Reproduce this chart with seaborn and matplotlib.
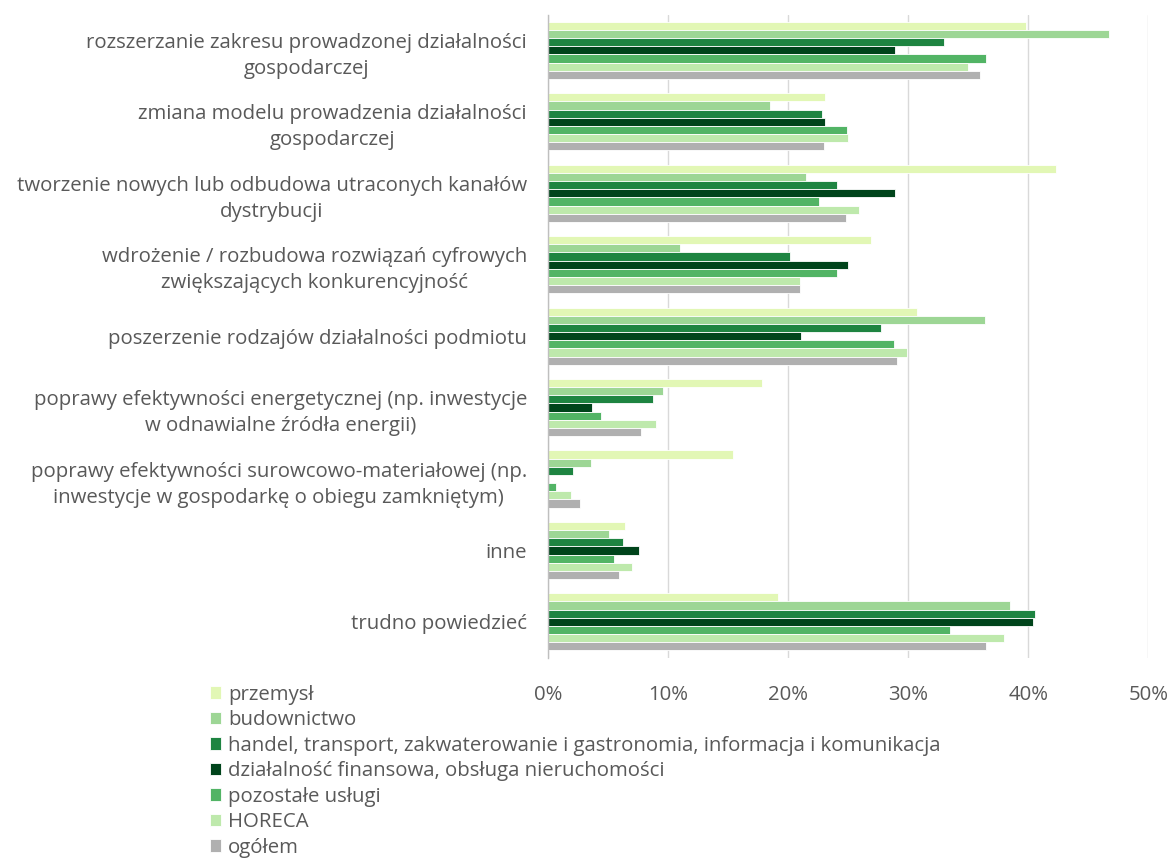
import numpy as np
import pandas as pd
import matplotlib
matplotlib.use("Agg")
import matplotlib.pyplot as plt
import seaborn as sns

# -----------------------------------
# DATA
# -----------------------------------

categories = [
    "rozszerzanie zakresu prowadzonej działalności\ngospodarczej",
    "zmiana modelu prowadzenia działalności\ngospodarczej",
    "tworzenie nowych lub odbudowa utraconych kanałów\ndystrybucji",
    "wdrożenie / rozbudowa rozwiązań cyfrowych\nzwiększających konkurencyjność",
    "poszerzenie rodzajów działalności podmiotu",
    "poprawy efektywności energetycznej (np. inwestycje\nw odnawialne źródła energii)",
    "poprawy efektywności surowcowo-materiałowej (np.\ninwestycje w gospodarkę o obiegu zamkniętym)",
    "inne",
    "trudno powiedzieć",
]

sectors = [
    "przemysł",
    "budownictwo",
    "handel, transport, zakwaterowanie i gastronomia, informacja i komunikacja",
    "działalność finansowa, obsługa nieruchomości",
    "pozostałe usługi",
    "HORECA",
    "ogółem",
]

przemysl = [39.8, 23.1, 42.3, 26.9, 30.7, 17.8, 15.4, 6.4, 19.2]
budownictwo = [46.7, 18.5, 21.5, 11.0, 36.4, 9.6, 3.6, 5.1, 38.5]
handel = [33.0, 22.8, 24.1, 20.2, 27.7, 8.8, 2.1, 6.3, 40.6]
finanse = [28.9, 23.1, 28.9, 25.0, 21.1, 3.7, 0.0, 7.6, 40.4]
pozostale = [36.5, 24.9, 22.6, 24.1, 28.8, 4.4, 0.7, 5.5, 33.5]
horeca = [35.0, 25.0, 25.9, 21.0, 29.9, 9.0, 1.9, 7.0, 38.0]
ogolem = [36.0, 23.0, 24.8, 21.0, 29.1, 7.8, 2.7, 5.9, 36.5]

colors = ["#E2F7B5", "#9DD695", "#1E8441", "#00441B", "#52B465", "#BEE9AC", "#B0B0B0"]

series = [przemysl, budownictwo, handel, finanse, pozostale, horeca, ogolem]

rows = []
for sector, vals in zip(sectors, series):
    for cat, v in zip(categories, vals):
        rows.append({"kategoria": cat, "sektor": sector, "udzial": v})
df = pd.DataFrame(rows)

# -----------------------------------
# PLOT
# -----------------------------------

sns.set_style("white")
plt.rcParams["font.family"] = ["Open Sans", "DejaVu Sans"]

FS = 14.7

fig = plt.figure(figsize=(11.73, 8.63), dpi=100)
ax = fig.add_axes([0.467, 0.238, 0.512, 0.745])

sns.barplot(
    data=df,
    y="kategoria",
    x="udzial",
    hue="sektor",
    hue_order=sectors,
    order=categories,
    palette=colors,
    saturation=1,
    orient="h",
    width=0.8,
    edgecolor="white",
    linewidth=0.6,
    ax=ax,
)

ax.set_xlim(0, 50)
ax.set_xticks(np.arange(0, 51, 10))
ax.set_xticklabels([f"{t}%" for t in range(0, 51, 10)])
ax.set_xlabel("")
ax.set_ylabel("")
ax.xaxis.grid(True, color="#D9D9D9", linewidth=1)
ax.set_axisbelow(True)

for s in ["top", "right", "bottom"]:
    ax.spines[s].set_visible(False)
ax.spines["left"].set_color("#BFBFBF")
ax.spines["left"].set_linewidth(1)

ax.tick_params(axis="x", length=0, pad=20, labelsize=FS, colors="#595959")
ax.tick_params(axis="y", length=0, pad=15, labelsize=FS, colors="#595959")
for lbl in ax.get_yticklabels():
    lbl.set_multialignment("center")
    lbl.set_linespacing(1.4)

ax.get_legend().remove()
handles, labels = ax.get_legend_handles_labels()
fig.legend(
    handles,
    labels,
    loc="upper left",
    bbox_to_anchor=(0.172, 0.216),
    frameon=False,
    fontsize=FS,
    labelcolor="#595959",
    handlelength=0.55,
    handleheight=0.55,
    handletextpad=0.35,
    labelspacing=0.27,
    borderaxespad=0,
)

plt.savefig("out.png", dpi=100)
